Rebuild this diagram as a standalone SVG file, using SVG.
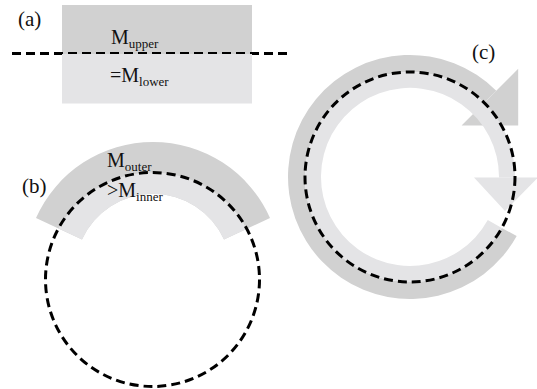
<svg xmlns="http://www.w3.org/2000/svg" width="537" height="389" viewBox="0 0 537 389">
<style>
.dark{fill:#d1d1d1}
.light{fill:#e4e4e6}
.dash{fill:none;stroke:#000;stroke-width:3;stroke-dasharray:9 5}
.lbl{font-family:"Liberation Serif","Times New Roman",serif;font-size:21px;fill:#111}
.m{font-family:"Liberation Serif","Times New Roman",serif;font-size:20px;fill:#111}
.sub{font-size:13px}
</style>
<defs>
<clipPath id="circB"><circle cx="152.5" cy="279.5" r="107"/></clipPath>
<path id="bandB" d="M 36 218 A 128 128 0 0 1 270 218 L 224 239.5 A 78 78 0 0 0 82 239.5 Z"/>
</defs>
<rect width="537" height="389" fill="#fff"/>
<g id="panel-a">
<rect class="dark" x="62" y="5" width="190" height="49"/>
<path class="dash" d="M 12 53.5 H 287"/>
<rect class="light" x="62" y="54" width="190" height="49.5"/>
<text class="lbl" x="18" y="26">(a)</text>
<text class="m" x="111" y="44">M<tspan class="sub" dy="4">upper</tspan></text>
<text class="m" x="110" y="82">=M<tspan class="sub" dy="4">lower</tspan></text>
</g>
<g id="panel-b">
<use href="#bandB" class="dark"/>
<use href="#bandB" class="light" clip-path="url(#circB)"/>
<text class="lbl" x="22" y="193">(b)</text>
<text class="m" x="107" y="167">M<tspan class="sub" dy="4">outer</tspan></text>
<text class="m" x="107" y="197">&gt;M<tspan class="sub" dy="4">inner</tspan></text>
</g>
<g id="panel-c">
<path class="dark" d="M 516.7 236.1 A 122 122 0 1 1 496.3 90.7 L 484.2 102.8 A 105 105 0 1 0 501.8 227.9 Z"/>
<polygon class="dark" points="461.6,125.4 518.2,68.8 518.2,125.4"/>
<path class="light" d="M 501.8 227.9 A 105 105 0 1 1 515 177.5 L 499 177.5 A 89 89 0 1 0 487.8 220.1 Z"/>
<polygon class="light" points="474,177.5 538,177.5 505,211"/>
<text class="lbl" x="472" y="59">(c)</text>
</g>
<g id="connectors">
<circle class="dash" cx="152.5" cy="279.5" r="107"/>
<circle class="dash" cx="410" cy="177" r="105"/>
</g>
</svg>
